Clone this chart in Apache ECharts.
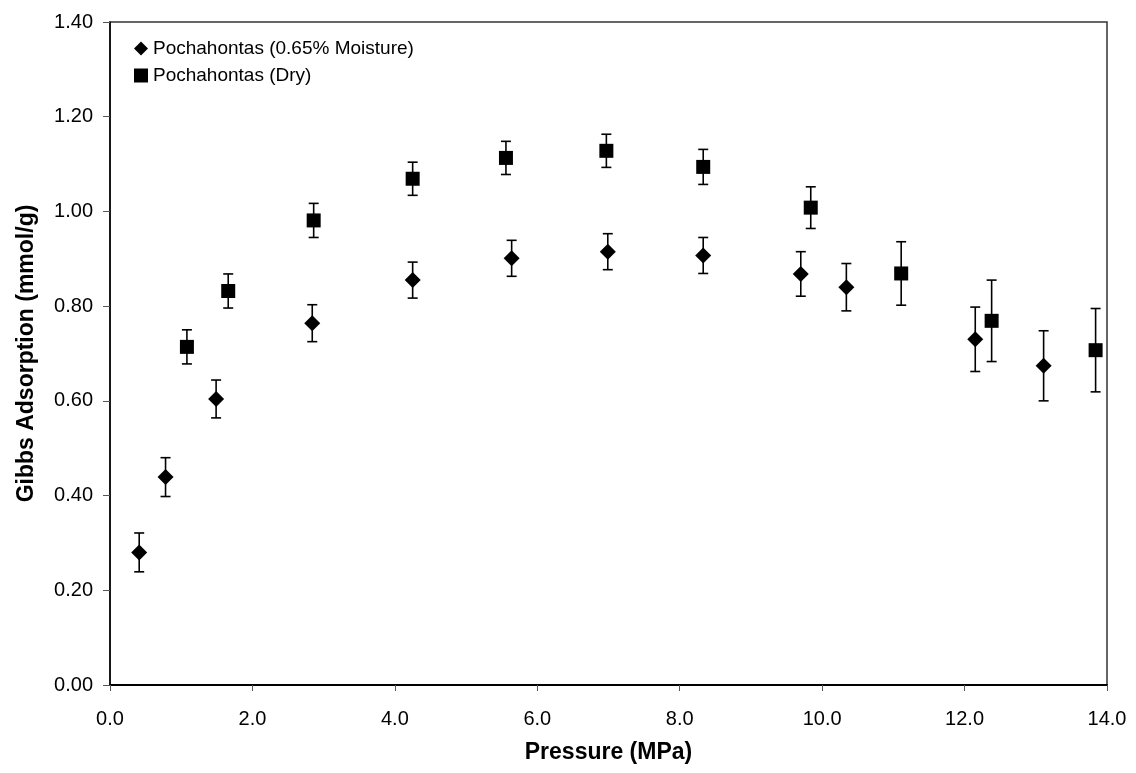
<!DOCTYPE html>
<html>
<head>
<meta charset="utf-8">
<script src="https://cdn.jsdelivr.net/npm/echarts@6/dist/echarts.min.js"></script>
<style>html,body{margin:0;padding:0;background:#fff}#c{width:1136px;height:773px}</style>
</head>
<body>
<div id="c"></div>
<script>
// Pochahontas (0.65% Moisture): [pressure MPa, adsorption mmol/g, error]
const moistP = [0.41, 0.78, 1.49, 2.84, 4.25, 5.64, 6.99, 8.33, 9.70, 10.34, 12.15, 13.11];
const moistA = [0.280, 0.439, 0.604, 0.764, 0.855, 0.901, 0.915, 0.907, 0.868, 0.840, 0.730, 0.674];
const moistE = [0.041, 0.041, 0.040, 0.039, 0.038, 0.038, 0.038, 0.038, 0.047, 0.050, 0.068, 0.074];
// Pochahontas (Dry)
const dryP = [1.08, 1.66, 2.86, 4.25, 5.56, 6.97, 8.33, 9.84, 11.11, 12.38, 13.84];
const dryA = [0.714, 0.832, 0.981, 1.069, 1.113, 1.128, 1.094, 1.008, 0.869, 0.769, 0.707];
const dryE = [0.036, 0.036, 0.036, 0.035, 0.035, 0.035, 0.037, 0.044, 0.067, 0.086, 0.088];
const xTicks = [0, 2, 4, 6, 8, 10, 12, 14];
const yTicks = [0, 0.2, 0.4, 0.6, 0.8, 1.0, 1.2, 1.4];
const names = ['Pochahontas (0.65% Moisture)', 'Pochahontas (Dry)'];

const font = 'Liberation Sans, Arial, sans-serif';
function pts(p, a) { return p.map((x, i) => [x, a[i]]); }
function errs(p, a, e) { return p.map((x, i) => [x, a[i], e[i]]); }
function errRender(params, api) {
  const x = api.value(0), y = api.value(1), e = api.value(2);
  const t = api.coord([x, y + e]);
  const b = api.coord([x, y - e]);
  const w = 5;
  const st = { stroke: '#000', lineWidth: 1.6 };
  return {
    type: 'group',
    children: [
      { type: 'line', shape: { x1: t[0], y1: t[1], x2: b[0], y2: b[1] }, style: st },
      { type: 'line', shape: { x1: t[0] - w, y1: t[1], x2: t[0] + w, y2: t[1] }, style: st },
      { type: 'line', shape: { x1: b[0] - w, y1: b[1], x2: b[0] + w, y2: b[1] }, style: st }
    ]
  };
}

const chart = echarts.init(document.getElementById('c'), null, { renderer: 'canvas' });
chart.setOption({
  animation: false,
  backgroundColor: '#fff',
  textStyle: { fontFamily: font },
  grid: { left: 110, top: 22, right: 29, bottom: 88, show: true, borderColor: '#333', borderWidth: 1.5, backgroundColor: '#fff' },
  legend: {
    orient: 'vertical', left: 129, top: 34, itemWidth: 14, itemHeight: 14, itemGap: 8,
    textStyle: { fontFamily: font, fontSize: 19, color: '#000' },
    data: [
      { name: names[0], icon: 'diamond' },
      { name: names[1], icon: 'rect' }
    ]
  },
  xAxis: {
    type: 'value', min: 0, max: 14, interval: 2,
    name: 'Pressure (MPa)', nameLocation: 'middle', nameGap: 56,
    nameTextStyle: { fontFamily: font, fontSize: 23, fontWeight: 'bold', color: '#000' },
    axisLine: { show: true, onZero: false, lineStyle: { color: '#000', width: 2 } },
    axisTick: { show: true, length: 6, lineStyle: { color: '#555', width: 1 } },
    axisLabel: { fontFamily: font, fontSize: 20, color: '#000', margin: 24, formatter: v => v.toFixed(1) },
    splitLine: { show: false }
  },
  yAxis: {
    type: 'value', min: 0, max: 1.4, interval: 0.2,
    name: 'Gibbs Adsorption (mmol/g)', nameLocation: 'middle', nameGap: 72,
    nameTextStyle: { fontFamily: font, fontSize: 23, fontWeight: 'bold', color: '#000' },
    axisLine: { show: true, onZero: false, lineStyle: { color: '#000', width: 1.5 } },
    axisTick: { show: true, length: 7, lineStyle: { color: '#555', width: 1 } },
    axisLabel: { fontFamily: font, fontSize: 20, color: '#000', margin: 17, formatter: v => v.toFixed(2) },
    splitLine: { show: false }
  },
  series: [
    { type: 'custom', name: names[0] + ' err', renderItem: errRender, data: errs(moistP, moistA, moistE), z: 1, silent: true, encode: { x: 0, y: 1 } },
    { type: 'custom', name: names[1] + ' err', renderItem: errRender, data: errs(dryP, dryA, dryE), z: 1, silent: true, encode: { x: 0, y: 1 } },
    { type: 'scatter', name: names[0], symbol: 'diamond', symbolSize: 16, data: pts(moistP, moistA), itemStyle: { color: '#000', opacity: 1 }, z: 3 },
    { type: 'scatter', name: names[1], symbol: 'rect', symbolSize: 14, data: pts(dryP, dryA), itemStyle: { color: '#000', opacity: 1 }, z: 3 }
  ]
});
</script>
</body>
</html>
